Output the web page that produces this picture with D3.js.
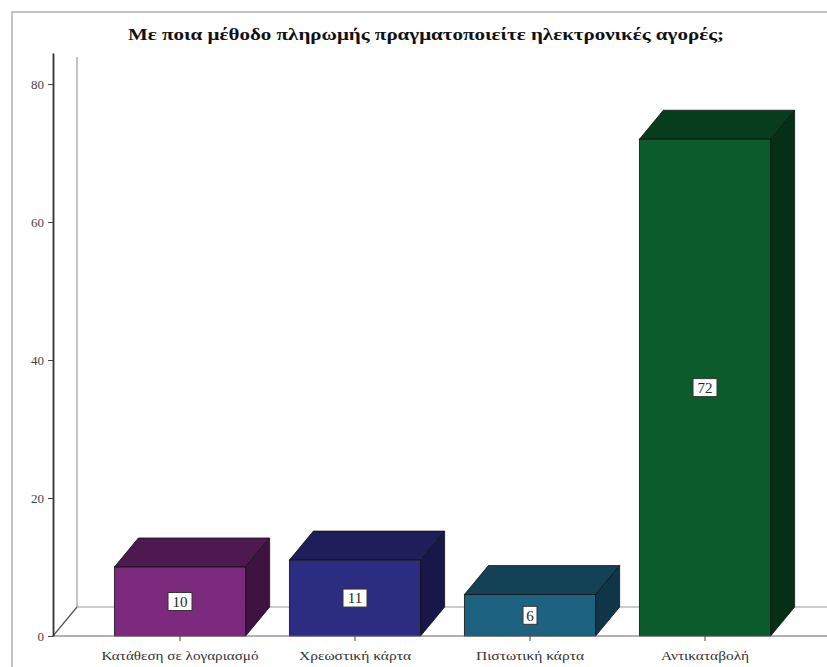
<!DOCTYPE html>
<html>
<head>
<meta charset="utf-8">
<script src="https://cdn.jsdelivr.net/npm/d3@7"></script>
<style>
  html, body { margin: 0; padding: 0; background: #fff; }
  svg { display: block; }
</style>
</head>
<body>
<svg id="chart" width="827" height="667"></svg>
<script>
// Payment methods and number of respondents
const categories = ["Κατάθεση σε λογαριασμό", "Χρεωστική κάρτα", "Πιστωτική κάρτα", "Αντικαταβολή"];
const counts = [10, 11, 6, 72];
const yTicks = [0, 20, 40, 60, 80];
const title = "Με ποια μέθοδο πληρωμής πραγματοποιείτε ηλεκτρονικές αγορές;";

// Face colours per bar: front, top, side
const frontColors = ["#7b2a7e", "#2c2c80", "#1e6282", "#0c5b2d"];
const topColors   = ["#4e1850", "#1e1e5a", "#134257", "#073c1c"];
const sideColors  = ["#3e1342", "#17174a", "#0f3547", "#053016"];

const svg = d3.select("#chart");
const serif = "'Liberation Serif', 'DejaVu Serif', serif";

// depth of the 3D projection
const dx = 24, dy = -29;

// outer frame
svg.append("rect")
  .attr("x", 12).attr("y", 12)
  .attr("width", 830).attr("height", 670)
  .attr("fill", "none").attr("stroke", "#c4c4c4").attr("stroke-width", 2);

// title
svg.append("text")
  .attr("x", 426).attr("y", 40)
  .attr("text-anchor", "middle")
  .attr("font-family", serif)
  .attr("font-weight", "bold")
  .attr("font-size", 16)
  .attr("textLength", 596)
  .attr("lengthAdjust", "spacingAndGlyphs")
  .attr("fill", "#111")
  .text(title);

const y = d3.scaleLinear().domain([0, 84.5]).range([636, 53]);
const x = d3.scaleBand()
  .domain(categories)
  .range([92.5, 792.5])
  .paddingInner(0.25)
  .paddingOuter(0.125);

const x0 = 53;         // front axis position
const right = 827;

// back wall and floor
svg.append("line")
  .attr("x1", x0 + dx).attr("x2", x0 + dx)
  .attr("y1", y(84.5) + 4).attr("y2", y(0) + dy)
  .attr("stroke", "#9a9a9a").attr("stroke-width", 1.2);
svg.append("line")
  .attr("x1", x0 + dx).attr("x2", right)
  .attr("y1", y(0) + dy).attr("y2", y(0) + dy)
  .attr("stroke", "#9a9a9a").attr("stroke-width", 1.2);
svg.append("line")
  .attr("x1", x0).attr("x2", x0 + dx)
  .attr("y1", y(0)).attr("y2", y(0) + dy)
  .attr("stroke", "#555").attr("stroke-width", 1.2);

// bars
const bars = svg.append("g").selectAll("g")
  .data(categories.map((c, i) => ({ c, v: counts[i], i })))
  .join("g");

const pts = a => a.map(p => p.join(",")).join(" ");

bars.append("polygon")
  .attr("points", d => {
    const l = x(d.c), r = l + x.bandwidth(), t = y(d.v);
    return pts([[l, t], [l + dx, t + dy], [r + dx, t + dy], [r, t]]);
  })
  .attr("fill", d => topColors[d.i])
  .attr("stroke", "#111").attr("stroke-width", 0.8);

bars.append("polygon")
  .attr("points", d => {
    const r = x(d.c) + x.bandwidth(), t = y(d.v), b = y(0);
    return pts([[r, t], [r + dx, t + dy], [r + dx, b + dy], [r, b]]);
  })
  .attr("fill", d => sideColors[d.i])
  .attr("stroke", "#111").attr("stroke-width", 0.8);

bars.append("rect")
  .attr("x", d => x(d.c))
  .attr("y", d => y(d.v))
  .attr("width", x.bandwidth())
  .attr("height", d => y(0) - y(d.v))
  .attr("fill", d => frontColors[d.i])
  .attr("stroke", "#111").attr("stroke-width", 0.8);

// value labels
const lab = bars.append("g")
  .attr("transform", d => `translate(${x(d.c) + x.bandwidth() / 2},${(y(d.v) + y(0)) / 2})`);
lab.append("rect")
  .attr("x", d => String(d.v).length > 1 ? -12 : -7)
  .attr("y", -9)
  .attr("width", d => String(d.v).length > 1 ? 24 : 14)
  .attr("height", 18)
  .attr("fill", "#fff")
  .attr("stroke", "#333").attr("stroke-width", 1);
lab.append("text")
  .attr("text-anchor", "middle")
  .attr("dy", "0.36em")
  .attr("font-family", serif)
  .attr("font-size", 15)
  .attr("fill", "#1d2b1d")
  .text(d => d.v);

// front baseline
svg.append("line")
  .attr("x1", x0).attr("x2", right)
  .attr("y1", y(0)).attr("y2", y(0))
  .attr("stroke", "#666").attr("stroke-width", 1.2);

// y axis
const yAxis = svg.append("g")
  .attr("transform", `translate(${x0},0)`)
  .call(d3.axisLeft(y).tickValues(yTicks).tickSize(5).tickSizeOuter(0).tickPadding(4));
yAxis.select(".domain").attr("stroke", "#333").attr("stroke-width", 1.8);
yAxis.selectAll(".tick line").attr("stroke", "#444");
yAxis.selectAll(".tick text")
  .attr("font-family", serif).attr("font-size", 13).attr("fill", "#444");

// x axis ticks and labels
const labelWidths = [157, 112, 108, 88];
const xAxis = svg.append("g")
  .attr("transform", `translate(0,${y(0)})`)
  .call(d3.axisBottom(x).tickSize(5).tickSizeOuter(0).tickPadding(10));
xAxis.select(".domain").remove();
xAxis.selectAll(".tick line").attr("stroke", "#444");
xAxis.selectAll(".tick text")
  .attr("font-family", serif).attr("font-size", 12).attr("fill", "#333")
  .attr("textLength", (d, i) => labelWidths[i])
  .attr("lengthAdjust", "spacingAndGlyphs");
</script>
</body>
</html>
